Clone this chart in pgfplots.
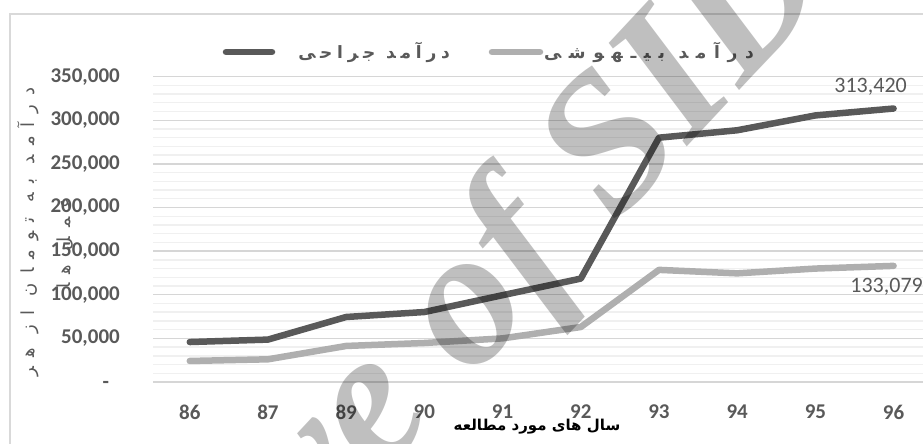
\documentclass[border=0pt]{standalone}
\usepackage{fontspec}
\usepackage{pgfplots}
\pgfplotsset{compat=1.18}
\setmainfont{Carlito}
\newfontfamily\arabicfont[Script=Arabic]{DejaVu Sans}
\newfontfamily\arabicwide[Script=Arabic, LetterSpace=28]{DejaVu Sans}
\newfontfamily\arabicwidest[Script=Arabic, LetterSpace=45]{DejaVu Sans}
\newfontfamily\arabicwider[Script=Arabic, LetterSpace=50]{DejaVu Sans}
\newfontfamily\wmfont{Liberation Serif}
\TeXXeTstate=1
\definecolor{darkline}{HTML}{595959}
\definecolor{lightline}{HTML}{AFAFAF}
\definecolor{gridmaj}{HTML}{D6D6D6}
\definecolor{gridmin}{HTML}{F0F0F0}
\definecolor{txtgray}{HTML}{595959}
\definecolor{framegray}{HTML}{D9D9D9}

\begin{document}
\begin{tikzpicture}[x=1pt,y=1pt]
\useasboundingbox (0,0) rectangle (923,444);
% chart frame (cropped at right and bottom)
\draw[framegray, line width=1.2pt] (10,-40) rectangle (980,430);

\begin{axis}[
    at={(153pt,62pt)}, anchor=south west, scale only axis,
    width=779.7pt, height=305.4pt,
    xmin=-0.47, xmax=9.5, ymin=0, ymax=350000,
    axis line style={draw=none}, tick style={draw=none},
    xtick={0,...,9},
    xticklabels={86,87,89,90,91,92,93,94,95,96},
    ytick={0,50000,...,350000},
    yticklabels={{-\phantom{0}},{50,000},{100,000},{150,000},{200,000},{250,000},{300,000},{350,000}},
    minor y tick num=4,
    ymajorgrids, yminorgrids,
    major grid style={draw=gridmaj, line width=1.4pt},
    minor grid style={draw=gridmin, line width=1.4pt},
    scaled y ticks=false,
    ticklabel style={font=\fontsize{21}{23}\selectfont\bfseries, text=txtgray, inner sep=0pt},
    xticklabel style={anchor=north, yshift=-23pt},
    yticklabel style={anchor=east, xshift=-33pt},
    clip=false,
]
% anesthesia income
\addplot[lightline, line width=6.5pt, line cap=round, line join=round] coordinates {
    (0,24100) (1,26000) (2,41300) (3,44700) (4,50000) (5,63000)
    (6,128500) (7,124500) (8,130000) (9,133079)};
% surgery income
\addplot[darkline, line width=6.5pt, line cap=round, line join=round] coordinates {
    (0,45800) (1,48600) (2,74500) (3,80200) (4,99500) (5,118500)
    (6,280000) (7,288500) (8,305500) (9,313420)};
\node[font=\fontsize{22}{24}\selectfont, text=txtgray] at (axis cs:9,313420) [xshift=-23pt, yshift=22pt] {313,420};
\node[font=\fontsize{22}{24}\selectfont, text=txtgray] at (axis cs:9,133079) [xshift=-7pt, yshift=-21pt] {133,079};
\end{axis}

% legend
\draw[darkline, line width=6.5pt, line cap=round] (226,392) -- (272,392);
\node[anchor=east, text=txtgray, font=\arabicwide\fontsize{17}{20}\selectfont\bfseries, inner sep=0pt] at (450,392) {\beginR درآمد جراحی\endR};
\draw[lightline, line width=6.5pt, line cap=round] (492,392) -- (540,392);
\node[anchor=east, text=txtgray, font=\arabicwidest\fontsize{17}{20}\selectfont\bfseries, inner sep=0pt] at (754,392) {\beginR درآمد بیـهوشی\endR};

% axis titles
\node[rotate=90, text=txtgray, font=\arabicwider\fontsize{18}{20}\selectfont, inner sep=0pt] at (28,212) {\beginR درآمد به تومان از هر\endR};
\node[rotate=90, text=txtgray, font=\arabicwider\fontsize{18}{20}\selectfont, inner sep=0pt] at (65,201) {\beginR عمل ها\endR};
\node[text=black, font=\arabicfont\fontsize{15}{18}\selectfont\bfseries, inner sep=0pt] at (537,17) {\beginR سال های مورد مطالعه\endR};

% watermark
\node[rotate=47, text=black, text opacity=0.25, font=\wmfont\bfseries\itshape\fontsize{195}{200}\selectfont, inner sep=0pt] at (388,46) {Archive of SID};
\end{tikzpicture}
\end{document}
